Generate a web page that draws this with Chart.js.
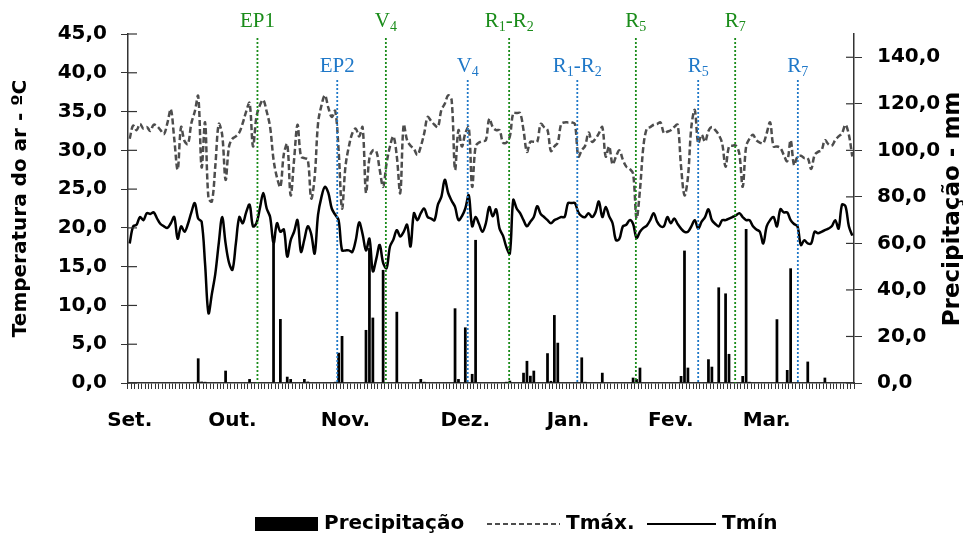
<!DOCTYPE html>
<html>
<head>
<meta charset="utf-8">
<script src="https://cdn.jsdelivr.net/npm/chart.js@4.4.1/dist/chart.umd.min.js"></script>
<style>
  body { margin: 0; background: #fff; }
</style>
</head>
<body>
<canvas id="clima" width="963" height="537"></canvas>
<script>
// daily values, 1 Sep -> 31 Mar (212 days)
const tMax = [
  31.5, 33.2, 32.6, 33.4, 32.8, 33.0, 32.5, 33.3, 33.1, 32.6,
  32.1, 33.5, 35.3, 31.5, 27.5, 33.0, 31.2, 30.8, 33.5, 35.0,
  37.0, 27.8, 33.6, 23.8, 23.4, 28.0, 33.4, 32.0, 26.2, 30.5,
  31.5, 31.8, 32.3, 33.5, 35.0, 36.1, 30.5, 34.3, 35.8, 36.5,
  35.0, 33.0, 28.8, 26.5, 25.3, 29.5, 30.8, 24.2, 28.8, 33.3,
  29.2, 29.0, 28.8, 23.8, 26.5, 33.5, 35.8, 37.1, 35.5, 34.3,
  35.1, 30.0, 22.5, 27.9, 30.5, 32.2, 32.8, 31.8, 33.0, 24.5,
  29.0, 30.0, 29.9, 27.5, 25.3, 28.3, 30.5, 31.8, 29.2, 24.5,
  33.3, 31.3, 30.6, 30.2, 29.4, 30.5, 32.2, 34.3, 33.8, 33.3,
  33.0, 35.2, 36.0, 37.1, 36.5, 27.5, 32.6, 30.5, 32.2, 33.0,
  25.3, 30.5, 31.0, 31.2, 31.3, 34.1, 33.0, 32.6, 32.6, 31.0,
  31.0, 31.8, 34.8, 34.8, 34.8, 32.6, 29.8, 31.1, 31.1, 31.1,
  33.4, 33.0, 32.6, 29.9, 30.5, 31.0, 33.4, 33.6, 33.6, 33.6,
  33.4, 29.2, 30.0, 30.6, 32.3, 31.1, 31.5, 32.2, 33.0, 29.2,
  30.5, 28.2, 29.2, 30.0, 28.8, 27.9, 27.6, 27.0, 21.2, 24.9,
  30.5, 32.8, 33.0, 33.3, 33.4, 33.6, 32.2, 32.4, 32.6, 33.0,
  33.3, 27.9, 24.2, 26.5, 33.0, 35.2, 30.9, 32.0, 31.1, 32.5,
  33.0, 32.6, 32.0, 30.9, 27.9, 30.5, 30.6, 30.6, 29.6, 25.3,
  30.5, 31.5, 32.0, 31.3, 31.0, 30.9, 32.2, 33.6, 30.5, 30.5,
  30.3, 29.4, 28.6, 31.3, 28.1, 29.2, 29.3, 29.0, 29.0, 27.6,
  29.4, 29.8, 30.0, 31.3, 30.8, 30.6, 31.3, 31.8, 32.2, 33.3,
  32.0, 29.2
];
const tMin = [
  18.0, 20.2, 20.4, 21.4, 21.0, 21.9, 21.8, 22.0, 21.2, 20.5,
  20.2, 20.0, 20.6, 21.4, 18.6, 20.2, 19.5, 20.5, 22.0, 23.2,
  21.2, 20.8, 15.4, 9.0, 11.5, 14.1, 18.0, 21.4, 18.0, 15.5,
  14.6, 18.0, 21.4, 20.6, 22.0, 23.0, 20.2, 20.6, 22.5, 24.5,
  22.5, 21.4, 18.0, 20.6, 19.5, 19.8, 16.3, 18.4, 19.5, 21.0,
  16.9, 18.5, 20.2, 19.2, 16.7, 21.7, 24.0, 25.3, 24.5, 22.5,
  21.7, 21.0, 17.1, 17.1, 17.1, 16.9, 18.4, 20.7, 19.2, 17.1,
  18.6, 14.4, 16.0, 17.8, 15.5, 14.8, 17.6, 18.5, 19.7, 18.9,
  19.5, 20.4, 17.6, 21.9, 21.0, 21.9, 22.5, 21.4, 21.2, 21.0,
  23.0, 24.0, 26.2, 24.5, 23.5, 22.7, 21.0, 21.5, 22.5, 24.2,
  20.2, 21.4, 20.5, 19.5, 20.6, 22.7, 21.5, 22.4, 19.9, 19.0,
  17.5, 16.7, 23.6, 22.5, 21.9, 21.0, 20.2, 20.8, 21.4, 22.8,
  21.8, 21.4, 21.0, 20.6, 21.0, 21.2, 21.4, 21.4, 23.2, 23.2,
  23.2, 22.0, 21.5, 21.4, 21.9, 21.4, 22.0, 23.4, 21.4, 22.7,
  21.5, 20.6, 18.4, 18.6, 20.2, 20.4, 21.0, 20.5, 18.7, 19.5,
  20.0, 20.3, 21.0, 21.9, 20.8, 20.2, 20.2, 21.4, 20.6, 21.2,
  20.5, 19.9, 19.5, 19.5, 20.2, 21.0, 19.9, 20.8, 21.4, 22.4,
  21.0, 20.5, 20.2, 21.0, 21.0, 21.2, 21.4, 21.6, 21.9, 21.4,
  21.0, 21.0, 20.2, 19.8, 19.5, 18.0, 20.2, 21.0, 21.4, 20.2,
  22.4, 22.0, 22.0, 21.0, 20.5, 20.2, 17.8, 18.4, 18.0, 18.0,
  19.5, 19.3, 19.5, 19.7, 19.9, 20.2, 21.0, 19.9, 23.0, 22.8,
  20.2, 19.0
];
// rainy days (day index from 1 Sep) and rain in mm
const rainDays = [20, 21, 22, 28, 35, 42, 44, 46, 47, 51, 52, 59, 60, 61, 62, 69, 70, 71, 74, 78,
  85, 86, 95, 96, 98, 100, 101, 110, 111, 115, 116, 117, 118, 122, 123, 124, 125, 132, 133, 138,
  147, 148, 149, 161, 162, 163, 169, 170, 172, 174, 175, 179, 180, 181, 189, 192, 193, 198, 203];
const rainMm = [10.6, 0.6, 0.5, 5.3, 1.7, 60.0, 27.5, 2.7, 1.7, 1.7, 0.6, 0.3, 0.5, 13.0, 20.2, 22.8, 58.0, 28.1, 48.6, 30.6,
  1.7, 0.5, 32.1, 1.7, 23.9, 3.9, 61.5, 0.5, 1.0, 4.4, 9.5, 3.1, 5.3, 12.8, 0.9, 29.2, 17.3, 11.0, 0.5, 4.4,
  2.3, 1.7, 6.6, 3.0, 56.9, 6.6, 10.2, 7.0, 41.1, 38.5, 12.5, 3.0, 66.2, 0.5, 27.4, 5.6, 49.3, 9.2, 2.3];

const monthNames = ['Set.', 'Out.', 'Nov.', 'Dez.', 'Jan.', 'Fev.', 'Mar.'];
const monthDays = [0, 30, 63, 98, 128, 158, 186];

// phenological stages, two sowing dates ("_" = subscript)
const stages1 = ['EP1', 'V_4', 'R_1-R_2', 'R_5', 'R_7'];
const stageDays1 = [37.3, 74.8, 110.8, 147.8, 176.8];
const stages2 = ['EP2', 'V_4', 'R_1-R_2', 'R_5', 'R_7'];
const stageDays2 = [60.6, 98.7, 130.7, 166.0, 195.1];

const days = tMax.map((v, i) => i + 1);
const rain = days.map(() => 0);
rainDays.forEach((d, k) => { rain[d] = rainMm[k]; });

const FONT = 'DejaVu Sans';
const GREEN = '#1a8c1a';
const BLUE = '#1f78c8';
const fmt = v => v.toFixed(1).replace('.', ',');

function richText(ctx, txt, cx, base) {
  const parts = [];
  for (let i = 0; i < txt.length; i++) {
    if (txt[i] === '_') { parts.push({ t: txt[i + 1], sub: true }); i++; }
    else parts.push({ t: txt[i], sub: false });
  }
  const setF = sub => { ctx.font = (sub ? '14px' : '21px') + ' "Liberation Serif", serif'; };
  let w = 0;
  parts.forEach(p => { setF(p.sub); p.w = ctx.measureText(p.t).width; w += p.w; });
  let x = cx - w / 2;
  parts.forEach(p => {
    setF(p.sub);
    ctx.fillText(p.t, x, p.sub ? base + 4 : base);
    x += p.w;
  });
}

const stageLines = {
  id: 'stageLines',
  afterDatasetsDraw(chart) {
    const { ctx, chartArea, scales: { x } } = chart;
    const sets = [[stages1, stageDays1, GREEN, 38, 27], [stages2, stageDays2, BLUE, 80, 72]];
    ctx.save();
    sets.forEach(([names, pos, col, top, base]) => {
      names.forEach((n, k) => {
        const px = x.getPixelForValue(pos[k]);
        ctx.strokeStyle = col;
        ctx.lineWidth = 1.8;
        ctx.setLineDash([2, 2]);
        ctx.beginPath();
        ctx.moveTo(px, top);
        ctx.lineTo(px, chartArea.bottom);
        ctx.stroke();
        ctx.fillStyle = col;
        ctx.textBaseline = 'alphabetic';
        richText(ctx, n, px, base);
      });
    });
    ctx.restore();
  }
};

const axisExtras = {
  id: 'axisExtras',
  afterDraw(chart) {
    const { ctx, scales: { y, y1 } } = chart;
    ctx.save();
    ctx.strokeStyle = '#333';
    ctx.lineWidth = 1.2;
    y.ticks.forEach(t => {
      const py = y.getPixelForValue(t.value);
      ctx.beginPath(); ctx.moveTo(y.right, py); ctx.lineTo(y.right + 9, py); ctx.stroke();
    });
    y1.ticks.forEach(t => {
      const py = y1.getPixelForValue(t.value);
      ctx.beginPath(); ctx.moveTo(y1.left, py); ctx.lineTo(y1.left - 8, py); ctx.stroke();
    });
    // right title reads bottom-to-top like the left one
    ctx.translate(953, 209);
    ctx.rotate(-Math.PI / 2);
    ctx.fillStyle = '#000';
    ctx.font = 'bold 23px "' + FONT + '"';
    ctx.textAlign = 'center';
    ctx.textBaseline = 'middle';
    ctx.fillText('Precipitação - mm', 0, 0);
    ctx.restore();

    // legend
    ctx.save();
    ctx.font = 'bold 20px "' + FONT + '"';
    ctx.textBaseline = 'middle';
    const ly = 524;
    const legX = [255, 487, 647];
    const markW = [63, 73, 69];
    chart.data.datasets.forEach((ds, k) => {
      const lx = legX[k];
      if (ds.type === 'bar') {
        ctx.fillStyle = '#000';
        ctx.fillRect(lx, ly - 7, markW[k], 14);
      } else {
        ctx.strokeStyle = ds.borderColor;
        ctx.lineWidth = 2;
        ctx.setLineDash(ds.borderDash ? [5, 3] : []);
        ctx.beginPath(); ctx.moveTo(lx, ly); ctx.lineTo(lx + markW[k], ly); ctx.stroke();
        ctx.setLineDash([]);
      }
      ctx.fillStyle = '#000';
      ctx.fillText(ds.label, lx + markW[k] + 6, ly);
    });
    ctx.restore();
  }
};

new Chart(document.getElementById('clima'), {
  type: 'bar',
  data: {
    labels: days,
    datasets: [
      { type: 'bar', label: 'Precipitação', data: rain, yAxisID: 'y1', backgroundColor: '#000',
        barPercentage: 1, categoryPercentage: 0.8, order: 3 },
      { type: 'line', label: 'Tmáx.', data: tMax, yAxisID: 'y', borderColor: '#4d4d4d', borderDash: [6, 3],
        borderWidth: 2.5, pointRadius: 0, tension: 0.35, order: 1 },
      { type: 'line', label: 'Tmín', data: tMin, yAxisID: 'y', borderColor: '#000',
        borderWidth: 2.5, pointRadius: 0, tension: 0.35, order: 2 }
    ]
  },
  options: {
    responsive: false,
    devicePixelRatio: 1,
    animation: false,
    layout: { padding: { top: 34 } },
    font: { family: FONT },
    plugins: { legend: { display: false }, tooltip: { enabled: false } },
    scales: {
      x: {
        type: 'category',
        offset: true,
        grid: { drawOnChartArea: false, tickLength: 6, offset: true, color: '#333' },
        border: { color: '#333', width: 1.5 },
        ticks: {
          autoSkip: false, maxRotation: 0, minRotation: 0, padding: 20, color: '#000',
          font: { family: FONT, size: 20, weight: 'bold' },
          callback: (v, i) => { const k = monthDays.indexOf(i); return k >= 0 ? monthNames[k] : ''; }
        },
        afterFit: s => { s.height = 154; }
      },
      y: {
        position: 'left', min: 0, max: 45,
        grid: { drawOnChartArea: false, tickLength: 7, color: '#333' },
        border: { color: '#333', width: 1.5 },
        ticks: { stepSize: 5, padding: 14, color: '#000', font: { family: FONT, size: 20, weight: 'bold' }, callback: fmt },
        title: { display: true, text: 'Temperatura do ar - ºC', color: '#000',
          font: { family: FONT, size: 20, weight: 'bold' }, padding: { top: 9, bottom: 0 } },
        afterFit: s => { s.width = 128; }
      },
      y1: {
        position: 'right', min: 0, max: 150,
        grid: { drawOnChartArea: false, tickLength: 8, color: '#333' },
        border: { color: '#333', width: 1.5 },
        ticks: { stepSize: 20, includeBounds: false, padding: 15, color: '#000',
          font: { family: FONT, size: 20, weight: 'bold' }, callback: fmt },
        afterFit: s => { s.width = 109; }
      }
    }
  },
  plugins: [stageLines, axisExtras]
});
</script>
</body>
</html>
